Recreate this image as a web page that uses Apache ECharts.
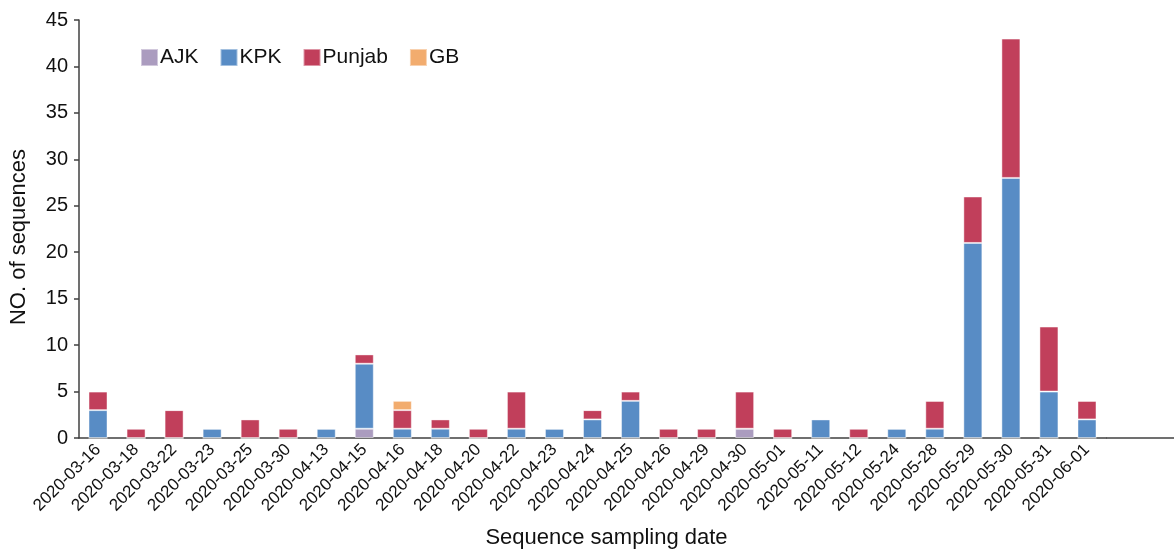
<!DOCTYPE html>
<html>
<head>
<meta charset="utf-8">
<script src="https://cdn.jsdelivr.net/npm/echarts@6/dist/echarts.min.js"></script>
<style>
html,body{margin:0;padding:0;background:#fff;}
#chart{width:1174px;height:551px;}
</style>
</head>
<body>
<div id="chart"></div>
<script>
const dates = ["2020-03-16","2020-03-18","2020-03-22","2020-03-23","2020-03-25","2020-03-30","2020-04-13","2020-04-15","2020-04-16","2020-04-18","2020-04-20","2020-04-22","2020-04-23","2020-04-24","2020-04-25","2020-04-26","2020-04-29","2020-04-30","2020-05-01","2020-05-11","2020-05-12","2020-05-24","2020-05-28","2020-05-29","2020-05-30","2020-05-31","2020-06-01"];
const ajk    = [0,0,0,0,0,0,0,1,0,0,0,0,0,0,0,0,0,1,0,0,0,0,0,0,0,0,0];
const kpk    = [3,0,0,1,0,0,1,7,1,1,0,1,1,2,4,0,0,0,0,2,0,1,1,21,28,5,2];
const punjab = [2,1,3,0,2,1,0,1,2,1,1,4,0,1,1,1,1,4,1,0,1,0,3,5,15,7,2];
const gb     = [0,0,0,0,0,0,0,0,1,0,0,0,0,0,0,0,0,0,0,0,0,0,0,0,0,0,0];
const yTicks = [0,5,10,15,20,25,30,35,40,45];

const chart = echarts.init(document.getElementById('chart'), null, {renderer:'canvas'});
const font = 'Liberation Sans, Arial, sans-serif';
const axisColor = '#404040';
const gridLeft = 79, gridRight = 68, gridTop = 20, gridBottom = 113;

function ser(name, data, color) {
  return {
    name, type:'bar', stack:'total', data, barWidth:19,
    itemStyle:{color, borderColor:'rgba(255,255,255,0.45)', borderWidth:1},
    emphasis:{disabled:true}
  };
}

chart.setOption({
  animation:false,
  textStyle:{fontFamily:font},
  legend:{
    left:135, top:42, itemWidth:17, itemHeight:17, itemGap:21,
    icon:'rect',
    textStyle:{fontSize:21, color:'#111', fontFamily:font, padding:[0,0,0,-3]},
    data:['AJK','KPK','Punjab','GB']
  },
  grid:{left:gridLeft, right:gridRight, top:gridTop, bottom:gridBottom, containLabel:false, outerBoundsMode:'none'},
  xAxis:{
    type:'category', data:dates,
    name:'Sequence sampling date', nameLocation:'middle', nameGap:89,
    nameTextStyle:{fontSize:22, color:'#111', fontFamily:font, padding:[0,0,0,28]},
    axisLine:{lineStyle:{color:axisColor, width:1.5}},
    axisTick:{alignWithLabel:true, length:5, lineStyle:{color:axisColor, width:1.5}},
    axisLabel:{rotate:45, fontSize:17, color:'#111', margin:9, fontFamily:font, interval:0}
  },
  yAxis:{
    type:'value', min:0, max:45, interval:5,
    name:'NO. of sequences', nameLocation:'middle', nameGap:49, nameRotate:90,
    nameTextStyle:{fontSize:22, color:'#111', fontFamily:font, padding:[0,16,0,0]},
    axisLine:{show:true, lineStyle:{color:axisColor, width:1.5}},
    axisTick:{show:true, length:5, lineStyle:{color:axisColor, width:1.5}},
    axisLabel:{fontSize:20, color:'#111', margin:11, fontFamily:font,
      formatter:v => yTicks.includes(v) ? String(v) : ''},
    splitLine:{show:false}
  },
  graphic:[{
    type:'line', silent:true,
    shape:{x1:1174-gridRight, y1:551-gridBottom, x2:1174, y2:551-gridBottom},
    style:{stroke:axisColor, lineWidth:1.5}
  }],
  series:[
    ser('AJK', ajk, '#AB9CBF'),
    ser('KPK', kpk, '#588CC5'),
    ser('Punjab', punjab, '#C13F5B'),
    ser('GB', gb, '#F2AC6E')
  ]
});
</script>
</body>
</html>
